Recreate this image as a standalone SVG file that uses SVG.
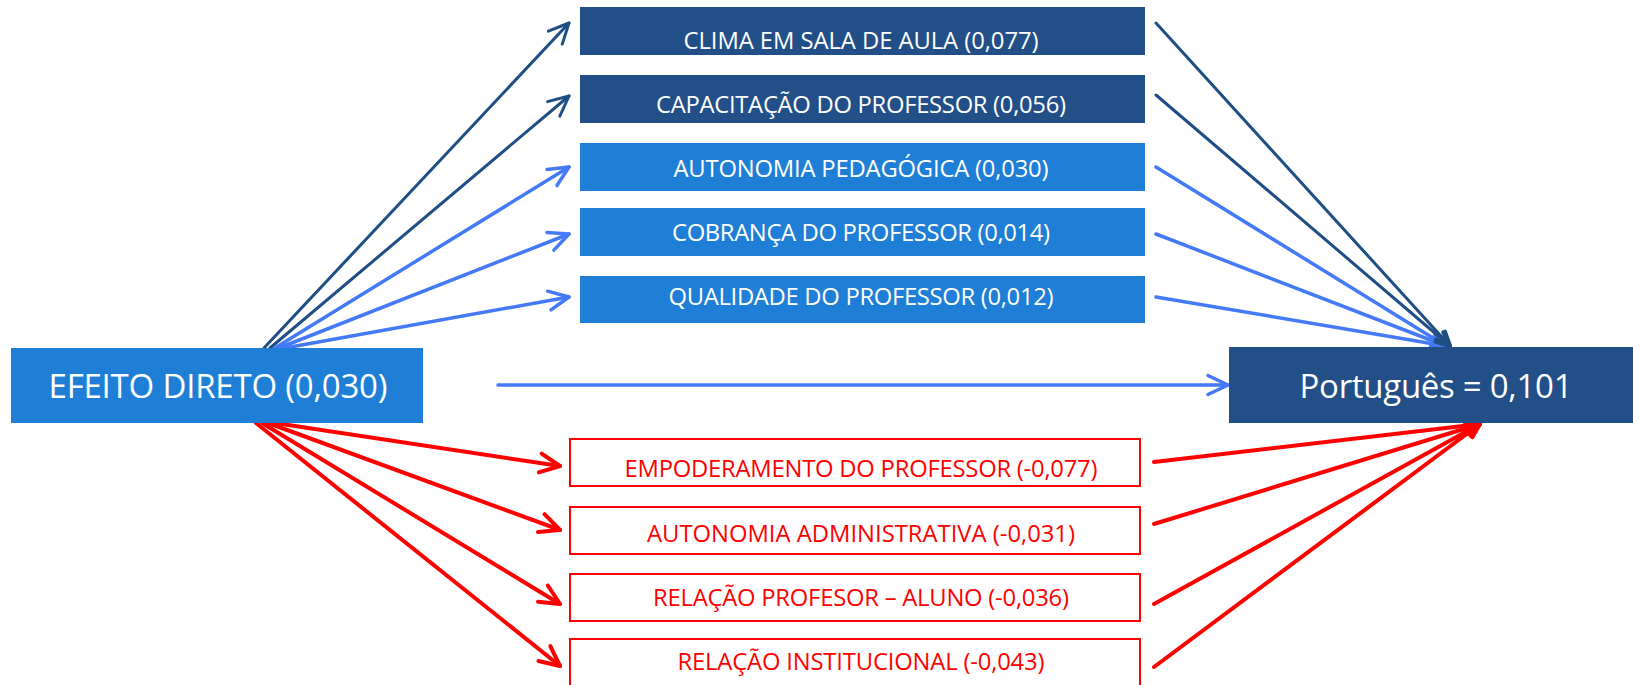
<svg xmlns="http://www.w3.org/2000/svg" width="1633" height="685" viewBox="0 0 1633 685">
  <style>
    .dark { fill: #224F88; }
    .light { fill: #1F7FD6; }
    .redbox { fill: #FFFFFF; stroke: #FF0000; stroke-width: 2; }
    .t { font-family: "Open Sans", "Liberation Sans", sans-serif; font-size: 23.8px; text-anchor: middle; fill: #FFFFFF; }
    .tr { fill: #FF0000; }
    .big { font-size: 33px; }
    .c { fill: none; stroke-linecap: round; }
    .cd { stroke: #1F4E84; stroke-width: 3; }
    .cl { stroke: #4479F7; stroke-width: 3.5; }
    .cr { stroke: #FF0000; stroke-width: 4; }
  </style>
  <defs>
    <marker id="ad" viewBox="-26 -14 30 28" refX="0" refY="0" markerWidth="30" markerHeight="28" markerUnits="userSpaceOnUse" orient="auto">
      <path d="M-20,-9.5 L0,0 L-20,9.5" fill="none" stroke="#1F4E84" stroke-width="3" stroke-linecap="round" stroke-linejoin="round"/>
    </marker>
    <marker id="al" viewBox="-26 -14 30 28" refX="0" refY="0" markerWidth="30" markerHeight="28" markerUnits="userSpaceOnUse" orient="auto">
      <path d="M-20,-9.5 L0,0 L-20,9.5" fill="none" stroke="#4479F7" stroke-width="3.5" stroke-linecap="round" stroke-linejoin="round"/>
    </marker>
    <marker id="ar" viewBox="-26 -14 30 28" refX="0" refY="0" markerWidth="30" markerHeight="28" markerUnits="userSpaceOnUse" orient="auto">
      <path d="M-20,-9.5 L0,0 L-20,9.5" fill="none" stroke="#FF0000" stroke-width="4" stroke-linecap="round" stroke-linejoin="round"/>
    </marker>
    <marker id="adS" viewBox="-20 -12 24 24" refX="0" refY="0" markerWidth="24" markerHeight="24" markerUnits="userSpaceOnUse" orient="auto">
      <path d="M-14,-6 L0,0 L-14,6" fill="none" stroke="#1F4E84" stroke-width="4" stroke-linecap="round" stroke-linejoin="round"/>
    </marker>
    <marker id="alS" viewBox="-20 -12 24 24" refX="0" refY="0" markerWidth="24" markerHeight="24" markerUnits="userSpaceOnUse" orient="auto">
      <path d="M-14,-6 L0,0 L-14,6" fill="none" stroke="#4479F7" stroke-width="4" stroke-linecap="round" stroke-linejoin="round"/>
    </marker>
    <marker id="arS" viewBox="-20 -12 24 24" refX="0" refY="0" markerWidth="24" markerHeight="24" markerUnits="userSpaceOnUse" orient="auto">
      <path d="M-14,-6 L0,0 L-14,6" fill="none" stroke="#FF0000" stroke-width="4" stroke-linecap="round" stroke-linejoin="round"/>
    </marker>
  </defs>

  <g id="connectors">
    <path class="c cd" d="M264,348 L569,23" marker-end="url(#ad)"/>
    <path class="c cd" d="M270,348 L569,96" marker-end="url(#ad)"/>
    <path class="c cl" d="M275,348 L569,167" marker-end="url(#al)"/>
    <path class="c cl" d="M279,348 L569,234" marker-end="url(#al)"/>
    <path class="c cl" d="M285,348 L569,297" marker-end="url(#al)"/>

    <path class="c cl" d="M1156,167 L1446,346" marker-end="url(#alS)"/>
    <path class="c cl" d="M1156,234 L1446,346" marker-end="url(#alS)"/>
    <path class="c cl" d="M1156,297 L1446,346" marker-end="url(#alS)"/>
    <path class="c cd" d="M1156,23 L1450,346" marker-end="url(#adS)"/>
    <path class="c cd" d="M1156,95 L1450,346" marker-end="url(#adS)"/>

    <path class="c cl" d="M498,385 L1228,385" marker-end="url(#al)"/>

    <path class="c cr" d="M275,423 L560,466" marker-end="url(#ar)"/>
    <path class="c cr" d="M268,423 L560,530" marker-end="url(#ar)"/>
    <path class="c cr" d="M262,423 L560,604" marker-end="url(#ar)"/>
    <path class="c cr" d="M256,423 L560,666" marker-end="url(#ar)"/>

    <path class="c cr" d="M1154,462 L1480,424" marker-end="url(#arS)"/>
    <path class="c cr" d="M1154,524 L1480,424" marker-end="url(#arS)"/>
    <path class="c cr" d="M1154,604 L1480,424" marker-end="url(#arS)"/>
    <path class="c cr" d="M1154,667 L1480,424" marker-end="url(#arS)"/>
  </g>

  <g id="efeito-direto">
    <rect class="light" x="11" y="348" width="412" height="75"/>
    <text class="t big" x="218" y="398" textLength="339">EFEITO DIRETO (0,030)</text>
  </g>
  <g id="portugues">
    <rect class="dark" x="1229" y="347" width="404" height="76"/>
    <text class="t big" x="1436" y="398" textLength="273">Português = 0,101</text>
  </g>

  <g id="clima">
    <rect class="dark" x="580" y="7" width="565" height="48"/>
    <text class="t" x="861" y="49" textLength="355">CLIMA EM SALA DE AULA (0,077)</text>
  </g>
  <g id="capacitacao">
    <rect class="dark" x="580" y="75" width="565" height="48"/>
    <text class="t" x="861" y="113" textLength="410">CAPACITAÇÃO DO PROFESSOR (0,056)</text>
  </g>
  <g id="autonomia-pedagogica">
    <rect class="light" x="580" y="143" width="565" height="48"/>
    <text class="t" x="861" y="177" textLength="375">AUTONOMIA PEDAGÓGICA (0,030)</text>
  </g>
  <g id="cobranca">
    <rect class="light" x="580" y="208" width="565" height="48"/>
    <text class="t" x="861" y="241" textLength="378">COBRANÇA DO PROFESSOR (0,014)</text>
  </g>
  <g id="qualidade">
    <rect class="light" x="580" y="276" width="565" height="47"/>
    <text class="t" x="861" y="305" textLength="385">QUALIDADE DO PROFESSOR (0,012)</text>
  </g>

  <g id="empoderamento">
    <rect class="redbox" x="570" y="439" width="570" height="47"/>
    <text class="t tr" x="861" y="477" textLength="473">EMPODERAMENTO DO PROFESSOR (-0,077)</text>
  </g>
  <g id="autonomia-administrativa">
    <rect class="redbox" x="570" y="507" width="570" height="47"/>
    <text class="t tr" x="861" y="542" textLength="428">AUTONOMIA ADMINISTRATIVA (-0,031)</text>
  </g>
  <g id="relacao-professor-aluno">
    <rect class="redbox" x="570" y="574" width="570" height="47"/>
    <text class="t tr" x="861" y="606" textLength="416">RELAÇÃO PROFESOR – ALUNO (-0,036)</text>
  </g>
  <g id="relacao-institucional">
    <rect class="redbox" x="570" y="639" width="570" height="60"/>
    <text class="t tr" x="861" y="670" textLength="367">RELAÇÃO INSTITUCIONAL (-0,043)</text>
  </g>
</svg>
